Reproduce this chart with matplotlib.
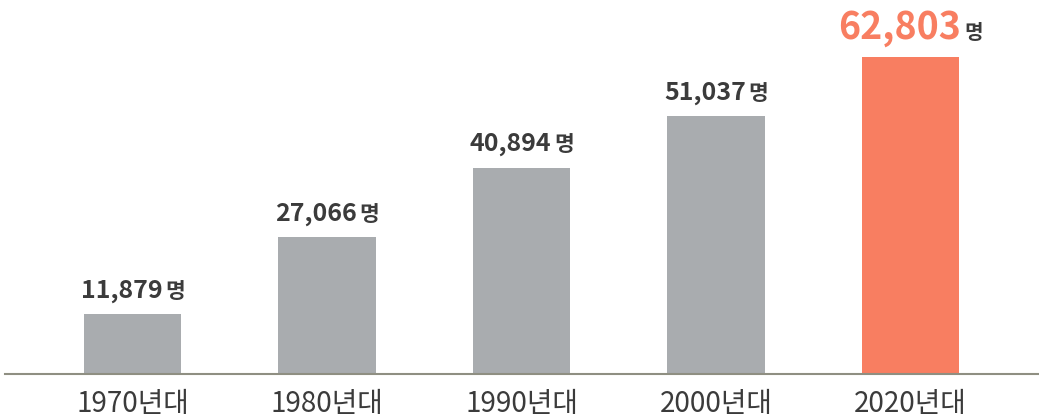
import matplotlib
matplotlib.use('Agg')
import matplotlib.pyplot as plt
from matplotlib.offsetbox import TextArea, HPacker, AnnotationBbox

plt.rcParams['font.family'] = ['Noto Sans CJK KR', 'DejaVu Sans']

# Chart data
decades = ['1970년대', '1980년대', '1990년대', '2000년대', '2020년대']
counts = [11879, 27066, 40894, 51037, 62803]
unit = '명'

GRAY = '#a9acaf'
ORANGE = '#f87e61'
TEXT = '#3b3b3b'

fig = plt.figure(figsize=(10.39, 4.2), dpi=100)
ax = fig.add_axes([5 / 1039, 46 / 420, 1034 / 1039, 374 / 420])

x = list(range(len(decades)))
colors = [GRAY] * (len(counts) - 1) + [ORANGE]
ax.bar(x, counts, width=0.5, color=colors, zorder=2)

ax.set_xlim(-0.656, 4.66)
ax.set_ylim(0, 74100)

# value labels: number + unit, centred over each bar
for i, v in enumerate(counts):
    last = i == len(counts) - 1
    num = TextArea(f'{v:,}', textprops=dict(
        fontsize=27 if last else 18, fontweight='bold',
        color=ORANGE if last else TEXT))
    u = TextArea(unit, textprops=dict(
        fontsize=14.5 if last else 15.5, fontweight='bold', color=TEXT))
    box = HPacker(children=[num, u], align='baseline', pad=0, sep=2)
    ab = AnnotationBbox(box, (i, v), xybox=(0, 7 if last else 8),
                        xycoords='data', boxcoords='offset points',
                        box_alignment=(0.5, 0), frameon=False)
    ax.add_artist(ab)

ax.set_xticks(x)
ax.set_xticklabels(decades, fontsize=20, fontweight='light', color=TEXT)
ax.tick_params(axis='x', length=0, pad=11)
ax.set_yticks([])

for side in ['top', 'right', 'left']:
    ax.spines[side].set_visible(False)
ax.spines['bottom'].set_color('#8f8f82')
ax.spines['bottom'].set_linewidth(1.5)

fig.savefig('out.png', dpi=100)
